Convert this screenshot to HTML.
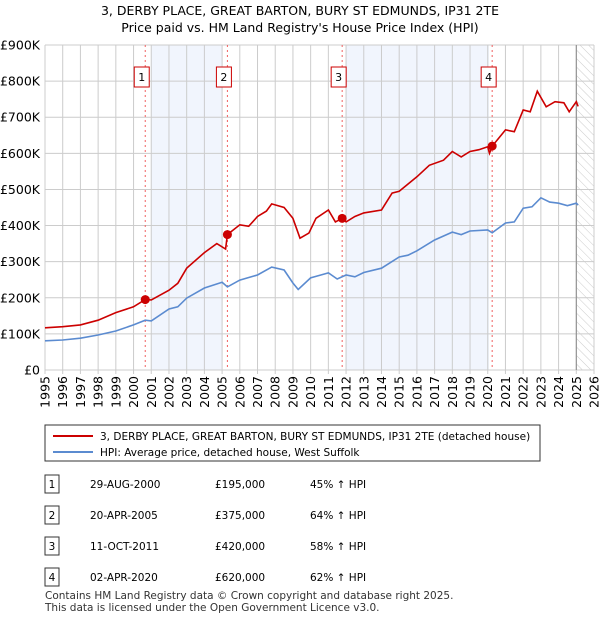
<!DOCTYPE html>
<html><head><meta charset="utf-8"><style>
body{margin:0;background:#fff;font-family:"Liberation Sans","DejaVu Sans",sans-serif;}
svg text{font-family:"DejaVu Sans","Liberation Sans",sans-serif;}
</style></head><body>
<svg id="c" width="600" height="620" xmlns="http://www.w3.org/2000/svg">
<defs><pattern id="hatch" width="6" height="6" patternUnits="userSpaceOnUse" patternTransform="rotate(-45)"><line x1="0" y1="0" x2="0" y2="6" stroke="#ccc" stroke-width="1"/></pattern></defs>
<text x="300" y="15" text-anchor="middle" font-size="12.5">3, DERBY PLACE, GREAT BARTON, BURY ST EDMUNDS, IP31 2TE</text>
<text x="300" y="32" text-anchor="middle" font-size="12.5">Price paid vs. HM Land Registry's House Price Index (HPI)</text>
<g id="plot"></g>
<g>
<rect x="45" y="425" width="495" height="36" fill="#fff" stroke="#333"/>
<line x1="53" y1="436" x2="93" y2="436" stroke="#cc0000" stroke-width="2"/>
<text x="100" y="440" font-size="10.5">3, DERBY PLACE, GREAT BARTON, BURY ST EDMUNDS, IP31 2TE (detached house)</text>
<line x1="53" y1="452" x2="93" y2="452" stroke="#5b8bd0" stroke-width="2"/>
<text x="100" y="456" font-size="10.5">HPI: Average price, detached house, West Suffolk</text>
</g>
<g id="tbl" font-size="10.5"></g>
<text x="45" y="599" font-size="10.5" fill="#333">Contains HM Land Registry data © Crown copyright and database right 2025.</text>
<text x="45" y="611" font-size="10.5" fill="#333">This data is licensed under the Open Government Licence v3.0.</text>
</svg>
<script>
const hpiYears=[1995,1996,1997,1998,1999,2000,2000.66,2001,2002,2002.5,2003,2004,2005,2005.3,2006,2007,2007.8,2008.5,2009,2009.3,2010,2010.5,2011,2011.5,2012,2012.5,2013,2014,2015,2015.5,2016,2017,2018,2018.5,2019,2020,2020.25,2021,2021.5,2022,2022.5,2023,2023.5,2024,2024.5,2025,2025.1];
const hpiValues=[81,83,88,97,108,125,138,136,169,175,199,227,243,230,249,263,285,277,241,223,255,262,269,252,263,258,270,282,313,318,330,360,382,375,385,388,380,407,410,448,452,477,465,462,455,462,457];
const ppYears=[1995,1996,1997,1998,1999,2000,2000.66,2001,2002,2002.5,2003,2004,2004.7,2005.2,2005.3,2006,2006.5,2007,2007.5,2007.8,2008.5,2009,2009.4,2009.9,2010.3,2011,2011.4,2011.78,2012,2012.5,2013,2014,2014.6,2015,2016,2016.7,2017.5,2018,2018.5,2019,2019.5,2020,2020.1,2020.25,2021,2021.5,2022,2022.4,2022.8,2023.3,2023.8,2024.3,2024.6,2025,2025.1];
const ppValues=[117,120,125,138,159,175,195,194,221,240,282,325,350,335,375,402,398,425,440,460,450,420,365,379,420,443,410,420,410,425,435,443,490,495,535,567,581,605,590,605,610,618,600,620,665,660,720,715,772,729,743,740,715,743,730];
const saleYears=[2000.66,2005.3,2011.78,2020.25];
const saleValues=[195,375,420,620];
const saleLabels=["1","2","3","4"];
const saleDates=["29-AUG-2000","20-APR-2005","11-OCT-2011","02-APR-2020"];
const salePrices=["£195,000","£375,000","£420,000","£620,000"];
const saleHpi=["45% ↑ HPI","64% ↑ HPI","58% ↑ HPI","62% ↑ HPI"];
const yTicks=[0,100,200,300,400,500,600,700,800,900];
const yTickLabels=["£0","£100K","£200K","£300K","£400K","£500K","£600K","£700K","£800K","£900K"];
const shadeRanges=[[2001,2005],[2012,2020.07]];

const X0=45,X1=594,Y0=370,Y1=45;
const sx=y=>X0+(y-1995)*(X1-X0)/31;
const sy=v=>Y0-v*(Y0-Y1)/900;
const NS="http://www.w3.org/2000/svg";
const g=document.getElementById('plot');
function mk(t,a,p){const e=document.createElementNS(NS,t);for(const k in a)e.setAttribute(k,a[k]);(p||g).appendChild(e);return e;}
shadeRanges.forEach(r=>{const e=mk('rect',{x:sx(r[0]),y:Y1,width:sx(r[1])-sx(r[0]),height:Y0-Y1,fill:'#eef3fc',opacity:0.8});

});
const h=mk('rect',{x:sx(2025),y:Y1,width:X1-sx(2025),height:Y0-Y1,fill:'url(#hatch)'});


for(let y=1995;y<=2026;y++){const e=mk('line',{x1:sx(y),x2:sx(y),y1:Y1,y2:Y0+4,stroke:'#ccc'});


const t=mk('text',{x:0,y:0,'font-size':12.5,'text-anchor':'end',transform:`translate(${sx(y)+4.5},${Y0+6}) rotate(-90)`});t.textContent=y;

}
yTicks.forEach((v,i)=>{const e=mk('line',{x1:X0,x2:X1,y1:sy(v),y2:sy(v),stroke:'#ccc'});


const t=mk('text',{x:X0-5,y:sy(v)+4.5,'font-size':12.5,'text-anchor':'end'});t.textContent=yTickLabels[i];

});
const cl=mk('line',{x1:sx(2025),x2:sx(2025),y1:Y1,y2:Y0,stroke:'#888','stroke-width':1});


saleYears.forEach((y,i)=>{const e=mk('line',{x1:sx(y),x2:sx(y),y1:Y1,y2:Y0,stroke:'#f06060','stroke-dasharray':'2,3'});

});
function path(xs,vs,col,name){const d=xs.map((x,i)=>(i?'L':'M')+sx(x).toFixed(1)+','+sy(vs[i]).toFixed(1)).join('');
const p=mk('path',{d:d,fill:'none',stroke:col,'stroke-width':1.6});

}
path(hpiYears,hpiValues,'#5b8bd0','hpi-line');
path(ppYears,ppValues,'#cc0000','price-paid-line');
saleYears.forEach((y,i)=>{const c=mk('circle',{cx:sx(y),cy:sy(saleValues[i]),r:4.5,fill:'#cc0000'});


const b=mk('rect',{x:sx(y)-11,y:67,width:15,height:20,fill:'#fff',stroke:'#cc0000'});


const t=mk('text',{x:sx(y)-3.5,y:81,'font-size':11,'text-anchor':'middle'});t.textContent=saleLabels[i];

});
const tb=document.getElementById('tbl');
saleLabels.forEach((l,i)=>{const yy=484+i*31;
const b=mk('rect',{x:45,y:yy-9,width:14,height:18,fill:'#fff',stroke:'#333'},tb);


const cells=[[52,l,'middle'],[90,saleDates[i],'start'],[215,salePrices[i],'start'],[310,saleHpi[i],'start']];
cells.forEach(c=>{const t=mk('text',{x:c[0],y:yy+4,'text-anchor':c[2]},tb);t.textContent=c[1];

});});
</script>
</body></html>
